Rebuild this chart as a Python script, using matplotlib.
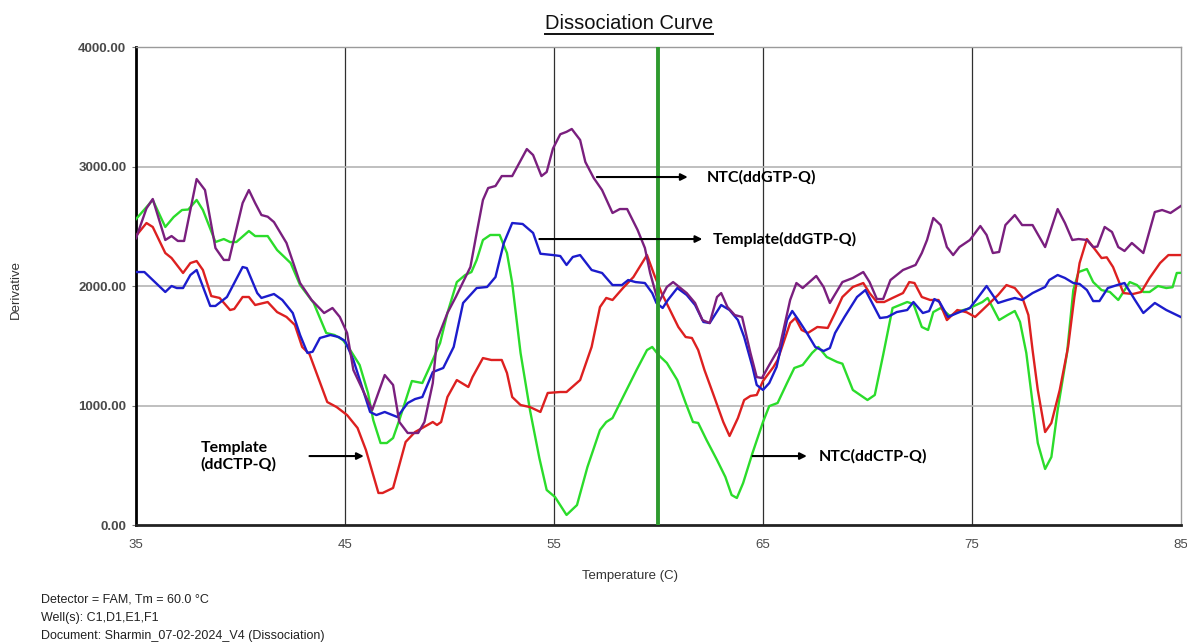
import matplotlib.pyplot as plt
from matplotlib.lines import Line2D

# melt curve derivative data (temperature in C, derivative)
ntc_gtp_t = [35.0, 35.5, 35.8, 36.4, 36.7, 37.0, 37.3, 37.9, 38.3, 38.8, 39.2, 39.45, 40.1, 40.4, 40.7,
             41.0, 41.3, 41.6, 42.2, 42.85, 43.4, 44.0, 44.4, 44.75, 45.1, 45.4, 46.3, 46.9, 47.3, 47.6,
             48.0, 48.5, 48.8, 49.2, 49.4, 49.9, 50.3, 50.65, 51.0, 51.3, 51.6, 51.85, 52.2, 52.5, 53.0,
             53.7, 54.0, 54.4, 54.65, 54.95, 55.3, 55.6, 55.85, 56.25, 56.5, 56.9, 57.3, 57.8, 58.15, 58.5,
             59.0, 59.35, 59.6, 60.0, 60.4, 60.7, 61.35, 61.75, 62.1, 62.45, 62.8, 63.0, 63.3, 63.65, 64.0,
             64.4, 64.7, 64.95, 65.3, 65.8, 66.3, 66.6, 66.9, 67.55, 67.9, 68.2, 68.8, 69.3, 69.8, 70.1,
             70.45, 70.75, 71.1, 71.7, 72.3, 72.6, 72.85, 73.15, 73.5, 73.8, 74.1, 74.4, 74.9, 75.4, 75.7,
             76.0, 76.3, 76.6, 77.05, 77.4, 77.9, 78.5, 79.1, 79.45, 79.8, 80.1, 80.5, 80.8, 81.0, 81.35,
             81.7, 82.0, 82.3, 82.65, 83.2, 83.75, 84.1, 84.5, 85.0]
ntc_gtp_v = [2400, 2650, 2728, 2385, 2418, 2377, 2377, 2895, 2803, 2318, 2218, 2218, 2694, 2803, 2694,
             2594, 2580, 2535, 2360, 2025, 1883, 1774, 1816, 1741, 1607, 1297, 962, 1255, 1172, 862,
             770, 770, 862, 1188, 1548, 1774, 1908, 2033, 2159, 2444, 2720, 2820, 2837, 2920, 2920,
             3146, 3096, 2920, 2954, 3150, 3270, 3290, 3314, 3222, 3038, 2904, 2803, 2611, 2644, 2644,
             2469, 2318, 2109, 1858, 1992, 2033, 1941, 1858, 1715, 1690, 1908, 1941, 1824, 1757, 1741,
             1440, 1238, 1230, 1339, 1490, 1883, 2025, 1983, 2084, 1992, 1858, 2033, 2067, 2117, 2033,
             1891, 1891, 2050, 2134, 2176, 2276, 2385, 2569, 2510, 2326, 2259, 2326, 2385, 2502, 2427,
             2276, 2285, 2510, 2594, 2510, 2510, 2326, 2644, 2527, 2385, 2393, 2385, 2326, 2330, 2494,
             2452, 2326, 2293, 2360, 2276, 2619, 2636, 2611, 2670]

tmpl_ctp_t = [35.0, 35.5, 35.8, 36.4, 36.7, 37.25, 37.6, 37.9, 38.2, 38.6, 39.0, 39.5, 39.7, 40.1, 40.4,
              40.7, 41.3, 41.75, 42.2, 42.6, 42.95, 43.3, 44.15, 44.6, 45.1, 45.6, 46.0, 46.6, 46.8, 47.3,
              47.9, 48.35, 48.7, 49.2, 49.4, 49.6, 49.9, 50.35, 50.9, 51.1, 51.6, 52.0, 52.5, 52.75, 53.0,
              53.4, 53.85, 54.35, 54.7, 55.3, 55.6, 56.25, 56.8, 57.2, 57.5, 57.8, 58.3, 58.8, 59.45, 59.8,
              60.15, 60.55, 60.95, 61.3, 61.6, 61.9, 62.2, 62.6, 63.1, 63.4, 63.8, 64.1, 64.4, 64.7, 65.0,
              65.5, 65.7, 66.3, 66.55, 66.85, 67.15, 67.6, 68.1, 68.45, 68.8, 69.3, 69.8, 70.1, 70.45, 70.8,
              71.2, 71.7, 72.0, 72.25, 72.6, 73.0, 73.4, 73.8, 74.3, 74.75, 75.15, 75.5, 76.25, 76.65, 77.05,
              77.4, 77.7, 77.9, 78.15, 78.5, 78.8, 79.2, 79.6, 79.9, 80.15, 80.5, 80.8, 81.2, 81.45, 81.75,
              82.25, 82.7, 83.1, 83.5, 84.0, 84.4, 85.0]
tmpl_ctp_v = [2420, 2527, 2494, 2276, 2234, 2109, 2192, 2209, 2134, 1916, 1900, 1799, 1808, 1908, 1908,
              1841, 1866, 1782, 1741, 1674, 1490, 1430, 1029, 987, 920, 812, 628, 268, 268, 310,
              695, 778, 812, 862, 837, 862, 1071, 1213, 1155, 1238, 1397, 1381, 1381, 1272, 1071,
              1004, 987, 946, 1105, 1113, 1113, 1213, 1490, 1824, 1900, 1883, 1983, 2075, 2259, 2092,
              1941, 1799, 1657, 1573, 1565, 1464, 1297, 1105, 862, 745, 895, 1046, 1080, 1088, 1205,
              1322, 1381, 1690, 1732, 1632, 1607, 1657, 1649, 1774, 1908, 1992, 2025, 1941, 1866, 1866,
              1900, 1941, 2033, 2025, 1908, 1883, 1883, 1715, 1799, 1780, 1741, 1799, 1925, 2008, 1983,
              1908, 1757, 1464, 1130, 778, 854, 1130, 1490, 1908, 2192, 2393, 2326, 2234, 2240, 2159,
              1941, 1933, 1950, 2067, 2192, 2259, 2259]

tmpl_gtp_t = [35.0, 35.4, 36.4, 36.7, 36.95, 37.25, 37.6, 37.9, 38.55, 38.8, 39.35, 39.7, 40.1, 40.3, 40.8,
              41.0, 41.6, 42.0, 42.5, 42.85, 43.2, 43.45, 43.8, 44.3, 44.7, 45.0, 45.4, 46.2, 46.5, 46.9,
              47.5, 48.0, 48.35, 48.7, 49.2, 49.7, 50.2, 50.65, 51.3, 51.8, 52.2, 52.6, 53.0, 53.5, 54.0,
              54.35, 54.95, 55.3, 55.6, 55.9, 56.25, 56.8, 57.3, 57.8, 58.25, 58.55, 58.9, 59.35, 59.7, 59.9,
              60.2, 60.45, 60.9, 61.35, 61.75, 62.15, 62.45, 63.0, 63.4, 63.8, 64.1, 64.5, 64.7, 65.0, 65.3,
              65.65, 66.15, 66.4, 66.7, 67.1, 67.5, 67.9, 68.2, 68.45, 68.9, 69.5, 69.9, 70.2, 70.6, 70.95,
              71.4, 71.9, 72.2, 72.65, 72.95, 73.2, 73.45, 73.85, 74.3, 74.9, 75.2, 75.7, 76.25, 76.7, 77.05,
              77.4, 77.9, 78.5, 78.7, 79.1, 79.45, 79.85, 80.15, 80.5, 80.8, 81.1, 81.5, 81.95, 82.3, 82.8,
              83.2, 83.75, 84.3, 85.0]
tmpl_gtp_v = [2117, 2117, 1950, 2000, 1983, 1983, 2092, 2134, 1833, 1833, 1908, 2025, 2159, 2150, 1941,
              1900, 1933, 1883, 1774, 1590, 1440, 1450, 1565, 1590, 1573, 1540, 1381, 946, 920, 946,
              904, 1021, 1054, 1071, 1280, 1314, 1490, 1858, 1983, 1992, 2075, 2360, 2527, 2519, 2444,
              2270, 2259, 2251, 2176, 2243, 2259, 2134, 2109, 2008, 2008, 2050, 2033, 2025, 1941, 1858,
              1816, 1883, 1983, 1925, 1841, 1699, 1690, 1841, 1799, 1715, 1573, 1322, 1172, 1130, 1188,
              1322, 1715, 1791, 1715, 1607, 1490, 1456, 1481, 1607, 1741, 1908, 1966, 1866, 1732, 1740,
              1782, 1799, 1866, 1774, 1790, 1891, 1866, 1741, 1774, 1816, 1883, 2000, 1858, 1883, 1900,
              1883, 1941, 1992, 2050, 2092, 2067, 2025, 2017, 1966, 1874, 1874, 1983, 2008, 2025, 1883,
              1774, 1858, 1799, 1740]

ntc_ctp_t = [35.0, 35.8, 36.4, 36.8, 37.2, 37.5, 37.9, 38.2, 38.8, 39.2, 39.5, 39.8, 40.4, 40.7, 41.3,
             41.75, 42.4, 42.85, 43.5, 44.1, 44.5, 44.9, 45.25, 45.7, 46.1, 46.35, 46.7, 47.0, 47.3, 47.6,
             48.2, 48.7, 49.05, 49.55, 49.9, 50.35, 50.75, 51.05, 51.3, 51.6, 51.95, 52.4, 52.75, 53.0, 53.4,
             53.85, 54.3, 54.65, 55.05, 55.6, 56.1, 56.6, 57.2, 57.5, 57.8, 58.4, 58.95, 59.45, 59.7, 60.0,
             60.4, 60.9, 61.3, 61.65, 61.9, 62.3, 62.8, 63.2, 63.5, 63.75, 64.05, 64.5, 65.0, 65.3, 65.7,
             66.15, 66.5, 66.9, 67.35, 67.65, 68.05, 68.55, 68.8, 69.3, 70.0, 70.35, 70.75, 71.2, 71.9, 72.2,
             72.6, 72.9, 73.15, 73.5, 73.95, 74.4, 74.8, 75.5, 75.75, 76.3, 76.7, 77.05, 77.3, 77.6, 77.9,
             78.15, 78.5, 78.8, 79.1, 79.55, 79.85, 80.1, 80.5, 80.8, 81.2, 81.6, 82.0, 82.55, 82.9, 83.2,
             83.5, 83.9, 84.3, 84.6, 84.8, 85.0]
ntc_ctp_v = [2560, 2720, 2494, 2577, 2636, 2640, 2720, 2636, 2368, 2393, 2368, 2368, 2460, 2418, 2418,
             2301, 2192, 2008, 1858, 1607, 1590, 1548, 1464, 1339, 1105, 879, 686, 686, 728, 879,
             1205, 1188, 1322, 1523, 1774, 2033, 2092, 2117, 2218, 2385, 2427, 2427, 2276, 2025, 1440,
             962, 560, 293, 234, 84, 167, 485, 795, 862, 895, 1105, 1297, 1464, 1490, 1423,
             1356, 1213, 1021, 862, 854, 711, 544, 402, 251, 226, 351, 603, 862, 995, 1021,
             1188, 1314, 1339, 1440, 1490, 1406, 1364, 1350, 1130, 1046, 1088, 1423, 1816, 1866, 1850,
             1657, 1632, 1782, 1816, 1749, 1791, 1808, 1866, 1900, 1715, 1757, 1791, 1699, 1440, 1021,
             686, 469, 569, 962, 1440, 1966, 2117, 2142, 2033, 1966, 1950, 1883, 2033, 2008, 1950,
             1950, 2000, 1983, 1990, 2109, 2110]

tm = 60.0
x_ticks = [35, 45, 55, 65, 75, 85]
y_ticks = [0, 1000, 2000, 3000, 4000]

fig = plt.figure(figsize=(11.87, 6.43), dpi=100)
ax = fig.add_axes([0.1146, 0.1835, 0.8803, 0.7434])

ax.set_xlim(35, 85)
ax.set_ylim(0, 4000)

# grid: dark vertical lines, light grey horizontal lines
for xv in x_ticks[1:-1]:
    ax.axvline(xv, color='#303030', lw=0.9, zorder=1)
for yv in y_ticks[1:]:
    ax.axhline(yv, color='#b4b4b4', lw=1.2, zorder=1)

lw = 1.7
ax.plot(ntc_ctp_t, ntc_ctp_v, color='#2bdc2b', lw=lw, zorder=3)
ax.plot(tmpl_ctp_t, tmpl_ctp_v, color='#dd2020', lw=lw, zorder=3)
ax.plot(tmpl_gtp_t, tmpl_gtp_v, color='#1c1ccc', lw=lw, zorder=4)
ax.plot(ntc_gtp_t, ntc_gtp_v, color='#7a1f7e', lw=lw, zorder=5)

# Tm marker
ax.axvline(tm, color='#2e9a2e', lw=2.8, zorder=6)

for side in ['top', 'right']:
    ax.spines[side].set_color('#9a9a9a')
    ax.spines[side].set_linewidth(1.0)
ax.spines['left'].set_color('black')
ax.spines['left'].set_linewidth(2.0)
ax.spines['bottom'].set_color('#222222')
ax.spines['bottom'].set_linewidth(2.0)

ax.set_xticks(x_ticks)
ax.set_xticklabels([str(t) for t in x_ticks])
ax.set_yticks(y_ticks)
ax.set_yticklabels(['%.2f' % v for v in y_ticks])
ax.tick_params(axis='x', length=0, pad=10, labelsize=9.5, labelcolor='#4a4a4a')
ax.tick_params(axis='y', length=3, width=0.8, color='#777777', pad=4, labelsize=9.5,
               labelcolor='#4a4a4a')
for lab in ax.get_xticklabels() + ax.get_yticklabels():
    lab.set_family('Liberation Sans')
for lab in ax.get_yticklabels():
    lab.set_fontweight('semibold')

fig.text(0.0135, 0.549, 'Derivative', rotation=90, ha='center', va='center',
         family='Liberation Sans', fontsize=9.5, color='#333333')
fig.text(0.531, 0.104, 'Temperature (C)', ha='center', va='center',
         family='Liberation Sans', fontsize=9.5, color='#333333')

title = fig.text(0.53, 0.964, 'Dissociation Curve', ha='center', va='center',
                 family='Liberation Sans', fontsize=14.5, color='#111111')
fig.canvas.draw()
bb = title.get_window_extent()
W, H = fig.bbox.width, fig.bbox.height
uy = (bb.y0 - 1) / H
fig.add_artist(Line2D([bb.x0 / W, bb.x1 / W], [uy, uy], color='#111111', lw=1.4))

info = ['Detector = FAM, Tm = 60.0 \u00b0C',
        'Well(s): C1,D1,E1,F1',
        'Document: Sharmin_07-02-2024_V4 (Dissociation)']
for i, line in enumerate(info):
    fig.text(0.0345, 1 - (599 + 18.5 * i) / 643, line, ha='left', va='center',
             family='Liberation Sans', fontsize=9, color='#222222')

# labels for each trace with arrows
tfont = dict(family=['Lato', 'DejaVu Sans'], fontweight='bold', fontsize=11.5, color='black')
arrow = dict(arrowstyle='-|>', color='black', lw=1.5, mutation_scale=10, shrinkA=0, shrinkB=0)

ax.annotate('', xy=(61.4, 2912), xytext=(57.05, 2912), arrowprops=arrow, zorder=7)
ax.text(62.3, 2912, 'NTC(ddGTP-Q)', va='center', ha='left', **tfont)

ax.annotate('', xy=(62.1, 2393), xytext=(54.3, 2393), arrowprops=arrow, zorder=7)
ax.text(62.6, 2393, 'Template(ddGTP-Q)', va='center', ha='left', **tfont)

ax.annotate('', xy=(67.1, 577), xytext=(64.5, 577), arrowprops=arrow, zorder=7)
ax.text(67.65, 577, 'NTC(ddCTP-Q)', va='center', ha='left', **tfont)

ax.annotate('', xy=(45.9, 577), xytext=(43.3, 577), arrowprops=arrow, zorder=7)
ax.text(38.1, 577, 'Template\n(ddCTP-Q)', va='center', ha='left', linespacing=1.15, **tfont)

fig.savefig('out.png', dpi=100)
